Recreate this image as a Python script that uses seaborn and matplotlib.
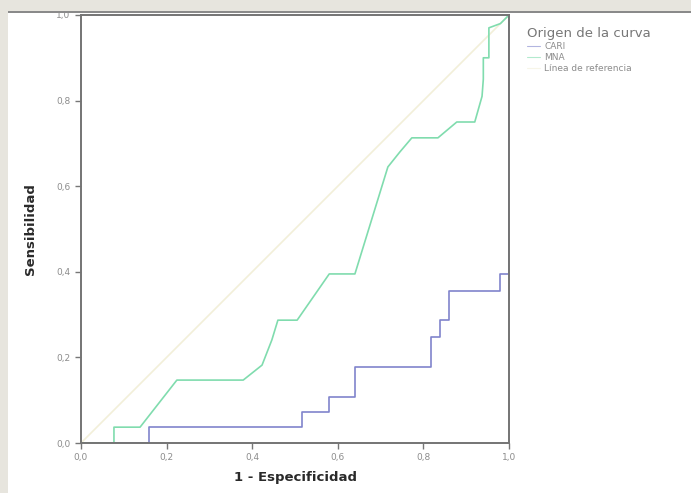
import matplotlib
matplotlib.use('Agg')
import matplotlib.pyplot as plt
from matplotlib.lines import Line2D
from matplotlib.patches import Rectangle
import seaborn as sns
import pandas as pd

# curvas COR
cari_x = [0, 0.16, 0.16, 0.517, 0.517, 0.58, 0.58, 0.64, 0.64, 0.818, 0.818,
          0.839, 0.839, 0.86, 0.86, 0.979, 0.979, 1.0, 1.0]
cari_y = [0, 0, 0.037, 0.037, 0.072, 0.072, 0.107, 0.107, 0.178, 0.178, 0.248,
          0.248, 0.287, 0.287, 0.355, 0.355, 0.395, 0.395, 1.0]

mna_x = [0, 0.077, 0.077, 0.138, 0.224, 0.379, 0.423, 0.446, 0.46, 0.505,
         0.58, 0.64, 0.717, 0.745, 0.773, 0.834, 0.878, 0.92, 0.937, 0.94,
         0.94, 0.953, 0.953, 0.98, 1.0]
mna_y = [0, 0, 0.037, 0.037, 0.147, 0.147, 0.182, 0.241, 0.287, 0.287,
         0.395, 0.395, 0.645, 0.68, 0.713, 0.713, 0.75, 0.75, 0.81, 0.85,
         0.9, 0.9, 0.97, 0.98, 1.0]

ref_x = [0, 1]
ref_y = [0, 1]

curvas = ['CARI', 'MNA', 'Línea de referencia']
colores = ['#8084cc', '#80dcae', '#f2efd9']
ticks = [0, 0.2, 0.4, 0.6, 0.8, 1.0]
tick_labels = ['0,0', '0,2', '0,4', '0,6', '0,8', '1,0']

frames = []
for nombre, xs, ys in zip(curvas, [cari_x, mna_x, ref_x], [cari_y, mna_y, ref_y]):
    frames.append(pd.DataFrame({'x': xs, 'y': ys, 'curva': nombre}))
df = pd.concat(frames, ignore_index=True)

sns.set_style('white')
plt.rcParams['font.family'] = ['DejaVu Sans']

fig = plt.figure(figsize=(6.91, 4.93), dpi=100, facecolor='#e7e5de')
fig.patches.append(Rectangle((8 / 691, 0), 1, 1 - 11 / 493, transform=fig.transFigure,
                             facecolor='white', edgecolor='none', zorder=-10))
fig.patches.append(Rectangle((8 / 691, 1 - 13 / 493), 1, 2 / 493, transform=fig.transFigure,
                             facecolor='#8a8a8a', edgecolor='none', zorder=-9))
ax = fig.add_axes([81 / 691, 1 - 443 / 493, 428 / 691, 428 / 493])
ax.set_facecolor('white')

sns.lineplot(data=df, x='x', y='y', hue='curva', hue_order=curvas,
             palette=colores, estimator=None, sort=False, units='curva',
             linewidth=1.2, legend=False, ax=ax)
# la linea de referencia va por debajo
for ln in ax.lines:
    if len(ln.get_xdata()) == 2:
        ln.set_zorder(1)

ax.set_xlim(0, 1)
ax.set_ylim(0, 1)
ax.set_xticks(ticks)
ax.set_yticks(ticks)
ax.set_xticklabels(tick_labels)
ax.set_yticklabels(tick_labels)
ax.tick_params(axis='both', direction='out', length=4, width=1, color='#777777',
               labelsize=6.5, labelcolor='#8c8c8c', bottom=True, left=True)
for s in ax.spines.values():
    s.set_color('#747474')
    s.set_linewidth(1.4)

ax.set_xlabel('1 - Especificidad', fontsize=9.5, fontweight='bold', color='#2a2a2a', labelpad=6)
ax.set_ylabel('Sensibilidad', fontsize=9.5, fontweight='bold', color='#2a2a2a', labelpad=14)

handles = [Line2D([], [], color=c, lw=0.8, alpha=0.6) for c in colores]
leg = fig.legend(handles, curvas, title='Origen de la curva', loc='upper left',
                 bbox_to_anchor=(519 / 691, 1 - 19 / 493), frameon=False,
                 fontsize=6.5, handlelength=1.4, handletextpad=0.5,
                 labelspacing=0.22, alignment='left')
leg.get_title().set_fontsize(9.5)
leg.get_title().set_color('#777777')
for t in leg.get_texts():
    t.set_color('#8c8c8c')

fig.savefig('out.png', dpi=100, facecolor=fig.get_facecolor())
